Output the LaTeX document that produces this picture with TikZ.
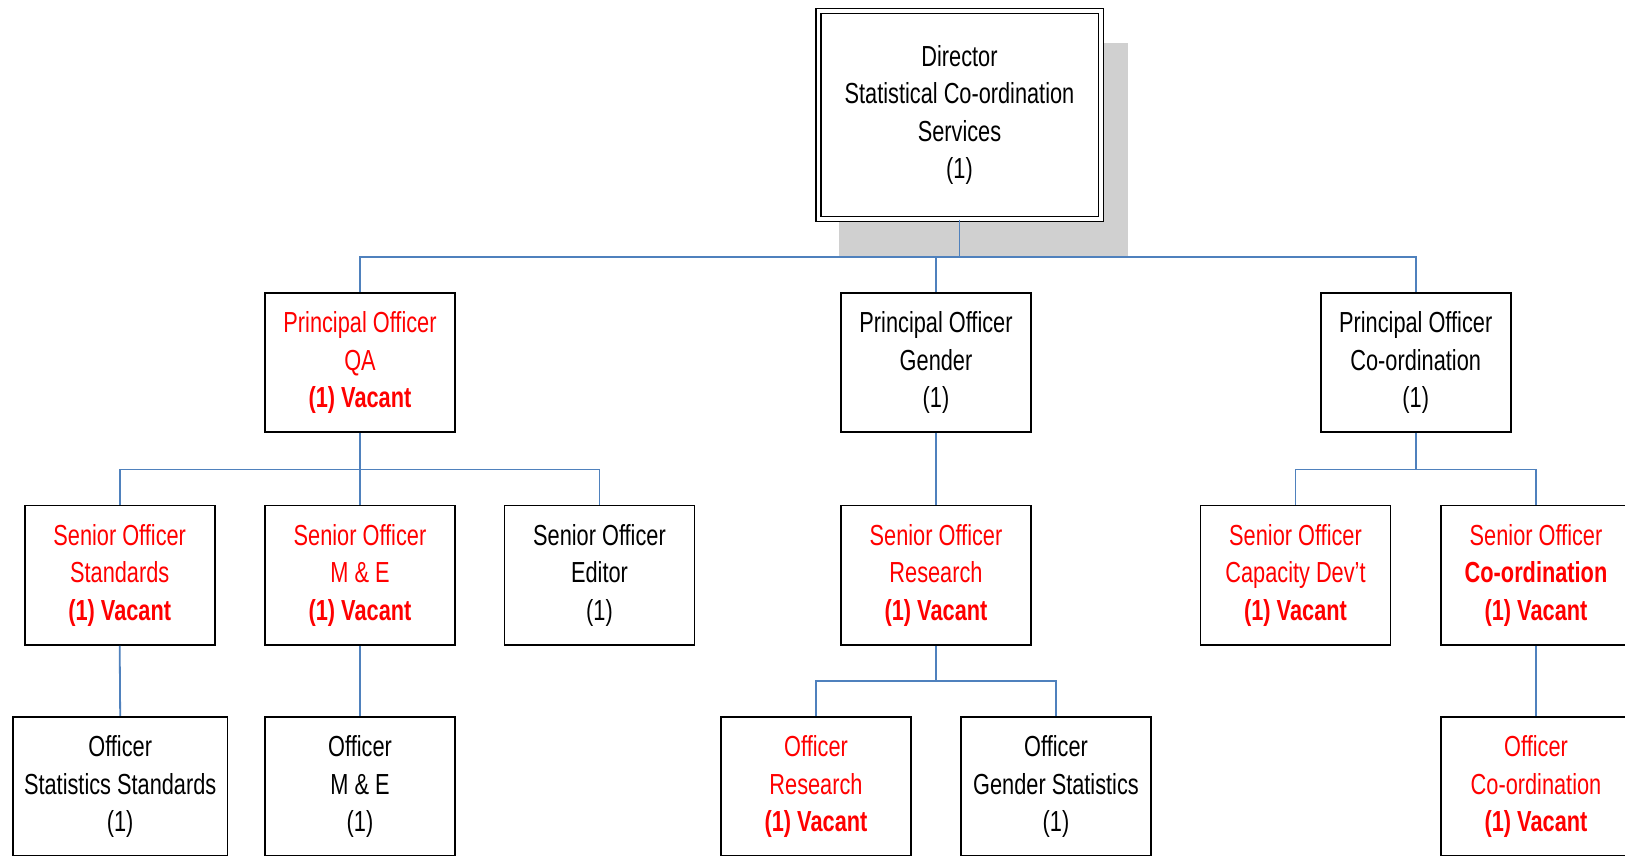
\documentclass[tikz,border=0pt]{standalone}
\usepackage{fontspec}
\setmainfont[FakeStretch=0.75]{Liberation Sans}
\usetikzlibrary{calc}
\definecolor{conncol}{RGB}{79,129,189}
\definecolor{shadowcol}{RGB}{208,208,208}
\definecolor{vred}{RGB}{255,0,0}
\newcommand{\boxfont}{\fontsize{29}{37.5}\selectfont}
\begin{document}
\begin{tikzpicture}[x=1pt,y=-1pt,
  box/.style={draw=black, line width=1.6pt, fill=white, minimum width=190pt, minimum height=139.5pt,
    inner sep=0pt, align=flush center, text width=186pt, font=\boxfont},
  wbox/.style={box, minimum width=214.5pt, text width=210pt},
  dirbox/.style={draw=black, line width=1.5pt, double=white, double distance=3.5pt, fill=white,
    minimum width=282.5pt, minimum height=207.5pt, inner sep=0pt, align=flush center, text width=270pt,
    font=\boxfont},
  conn/.style={draw=conncol, line width=1.8pt},
  red/.style={text=vred}
]
\useasboundingbox (0,0) rectangle (1625,856);
% shadow of director box
\fill[shadowcol] (839,43) rectangle (1128,257);

% nodes
\node[dirbox] (dir) at (959.5,115) {Director\\Statistical Co-ordination\\Services\\(1)};

\node[box, red] (qa) at (360,362.5) {Principal Officer\\QA\\\textbf{(1) Vacant}};
\node[box] (gen) at (936,362.5) {Principal Officer\\Gender\\(1)};
\node[box] (pco) at (1415.7,362.5) {Principal Officer\\Co-ordination\\(1)};

\node[box, red] (std) at (119.7,575.2) {Senior Officer\\Standards\\\textbf{(1) Vacant}};
\node[box, red] (sme) at (360,575.2) {Senior Officer\\M \& E\\\textbf{(1) Vacant}};
\node[box] (sed) at (599.5,575.2) {Senior Officer\\Editor\\(1)};
\node[box, red] (sres) at (936,575.2) {Senior Officer\\Research\\\textbf{(1) Vacant}};
\node[box, red] (scap) at (1295.5,575.2) {Senior Officer\\Capacity Dev’t\\\textbf{(1) Vacant}};
\node[box, red] (sco) at (1536,575.2) {Senior Officer\\\textbf{Co-ordination}\\\textbf{(1) Vacant}};

\node[wbox] (ostd) at (120.2,786.5) {Officer\\Statistics Standards\\(1)};
\node[box] (ome) at (360,786.5) {Officer\\M \& E\\(1)};
\node[box, red] (ores) at (816,786.5) {Officer\\Research\\\textbf{(1) Vacant}};
\node[box] (ogs) at (1056,786.5) {Officer\\Gender Statistics\\(1)};
\node[box, red] (oco) at (1536,786.5) {Officer\\Co-ordination\\\textbf{(1) Vacant}};

% bus coordinates
\coordinate (bus1) at (0,257);
\coordinate (bus2) at (0,469.5);
\coordinate (bus3) at (0,681);

% connectors
\draw[conn] (dir.south) -- (dir.south |- bus1);
\draw[conn] (qa.north) -- (qa.north |- bus1) -- (pco.north |- bus1) -- (pco.north);
\draw[conn] (gen.north) -- (gen.north |- bus1);

\draw[conn] (qa.south) -- (qa.south |- bus2);
\draw[conn] (std.north) -- (std.north |- bus2) -- (sed.north |- bus2) -- (sed.north);
\draw[conn] (sme.north) -- (sme.north |- bus2);

\draw[conn] (gen.south) -- (sres.north);

\draw[conn] (pco.south) -- (pco.south |- bus2);
\draw[conn] (scap.north) -- (scap.north |- bus2) -- (sco.north |- bus2) -- (sco.north);

\draw[conn] (std.south) -- (ostd.north);
\draw[conn] (sme.south) -- (ome.north);

\draw[conn] (sres.south) -- (sres.south |- bus3);
\draw[conn] (ores.north) -- (ores.north |- bus3) -- (ogs.north |- bus3) -- (ogs.north);

\draw[conn] (sco.south) -- (oco.north);
\end{tikzpicture}
\end{document}
